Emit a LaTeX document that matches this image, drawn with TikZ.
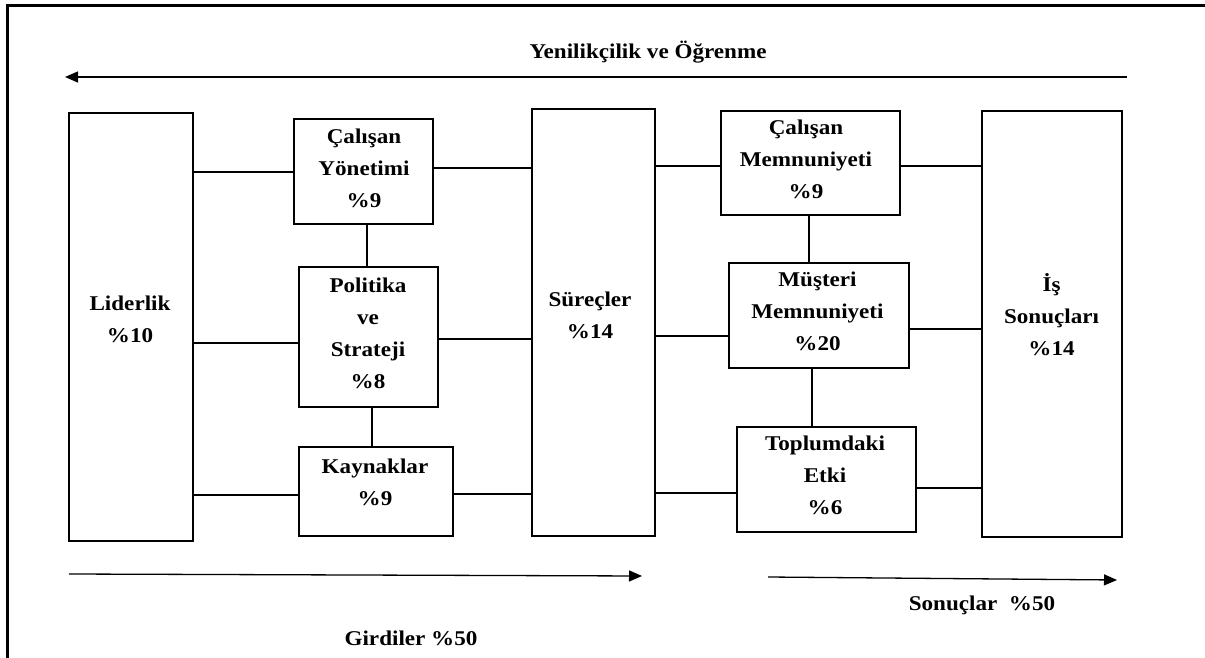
\documentclass[tikz,border=0pt]{standalone}
\usepackage{fontspec}
\setmainfont{Liberation Serif}[FakeStretch=1.1]
\usetikzlibrary{arrows.meta}

\begin{document}
\begin{tikzpicture}[x=1pt,y=-1pt,
  box/.style={draw, line width=1.4pt, inner sep=0pt, outer sep=0pt},
  lbl/.style={font=\bfseries\fontsize{21}{32}\selectfont, align=center, inner sep=0pt},
  link/.style={line width=1.2pt},
  flow/.style={line width=1.3pt, -{Triangle[length=13pt,width=11pt]}},
  frame/.style={line width=3pt}]
\useasboundingbox (0,0) rectangle (1205,658);

% outer frame (top and left edges only)
\draw[frame] (7,658) -- (7,6) -- (1205,6);

% boxes
\node[box, minimum width=124, minimum height=428] (lid) at (131,327) {};
\node[box, minimum width=139, minimum height=105] (cy)  at (363.5,171.5) {};
\node[box, minimum width=139, minimum height=140] (pol) at (368.5,337) {};
\node[box, minimum width=154, minimum height=89]  (kay) at (376,491.5) {};
\node[box, minimum width=123, minimum height=427] (sur) at (593.5,322.5) {};
\node[box, minimum width=179, minimum height=104] (cm)  at (810.5,163) {};
\node[box, minimum width=180, minimum height=105] (mm)  at (819,315.5) {};
\node[box, minimum width=179, minimum height=105] (te)  at (826.5,479.5) {};
\node[box, minimum width=140, minimum height=426] (is)  at (1052,324) {};

% box texts
\node[lbl] (lidT) at (130,319)   {Liderlik\\\%10};
\node[lbl] (cyT)  at (364,168.5) {Çalışan\\Yönetimi\\\%9};
\node[lbl] (polT) at (368,333)   {Politika\\ve\\Strateji\\\%8};
\node[lbl] (kayT) at (375,482)   {Kaynaklar\\\%9};
\node[lbl] (surT) at (590,315)   {Süreçler\\\%14};
\node[lbl] (cmT)  at (806,159.5) {Çalışan\\Memnuniyeti\\\%9};
\node[lbl] (mmT)  at (817.5,311.5) {Müşteri\\Memnuniyeti\\\%20};
\node[lbl] (teT)  at (825,475)   {Toplumdaki\\Etki\\\%6};
\node[lbl] (isT)  at (1051.5,315) {İş\\Sonuçları\\\%14};

% horizontal links
\draw[link] (lid.east |- 0,172) -- (cy.west |- 0,172);
\draw[link] (lid.east |- 0,343) -- (pol.west |- 0,343);
\draw[link] (lid.east |- 0,495) -- (kay.west |- 0,495);
\draw[link] (cy.east |- 0,168)  -- (sur.west |- 0,168);
\draw[link] (pol.east |- 0,339) -- (sur.west |- 0,339);
\draw[link] (kay.east |- 0,494) -- (sur.west |- 0,494);
\draw[link] (sur.east |- 0,166) -- (cm.west |- 0,166);
\draw[link] (cm.east |- 0,166)  -- (is.west |- 0,166);
\draw[link] (sur.east |- 0,336) -- (mm.west |- 0,336);
\draw[link] (mm.east |- 0,329)  -- (is.west |- 0,329);
\draw[link] (sur.east |- 0,493) -- (te.west |- 0,493);
\draw[link] (te.east |- 0,488)  -- (is.west |- 0,488);

% vertical links
\draw[link] (cy.south -| 367,0)  -- (pol.north -| 367,0);
\draw[link] (pol.south -| 372,0) -- (kay.north -| 372,0);
\draw[link] (cm.south -| 809,0)  -- (mm.north -| 809,0);
\draw[link] (mm.south -| 812,0)  -- (te.north -| 812,0);

% flow arrows
\coordinate (topR) at (1127,77);
\coordinate (topL) at (65,77);
\coordinate (inL)  at (69,574);
\coordinate (inR)  at (642,576);
\coordinate (outL) at (768,577);
\coordinate (outR) at (1117,580);
\draw[flow] (topR) -- (topL);
\draw[flow] (inL) -- (inR);
\draw[flow] (outL) -- (outR);

\node[lbl] (title) at (648,52)  {Yenilikçilik ve Öğrenme};
\node[lbl] (inT)   at (411,638) {Girdiler \%50};
\node[lbl] (outT)  at (982,605) {Sonuçlar~~\%50};
\end{tikzpicture}
\end{document}
